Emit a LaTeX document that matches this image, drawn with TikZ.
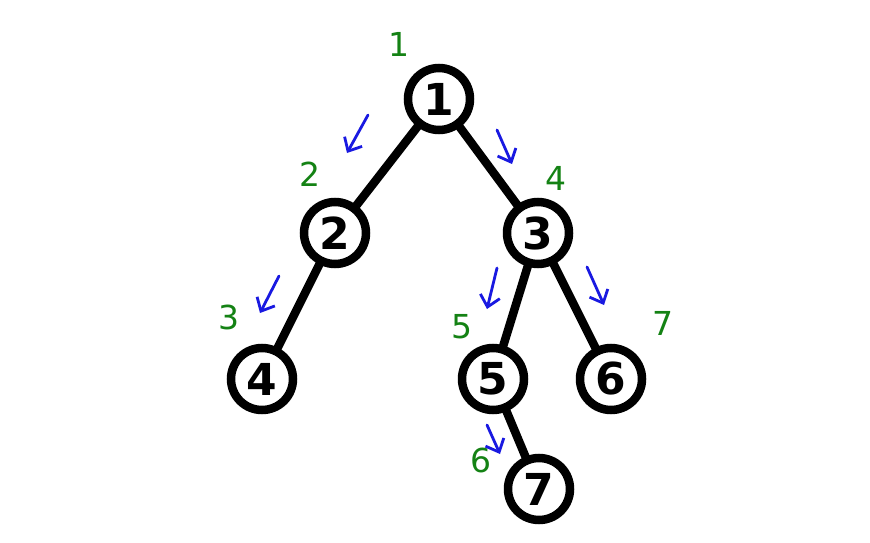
\documentclass[tikz,border=0pt]{standalone}
\usepackage{fontspec}
\setmainfont{DejaVu Sans}
\usetikzlibrary{arrows.meta}
\definecolor{lblgreen}{RGB}{20,130,20}
\definecolor{arrblue}{RGB}{25,25,225}
\begin{document}
\begin{tikzpicture}[x=1pt,y=-1pt,
  tnode/.style={circle,draw=black,line width=8.5pt,fill=white,minimum size=62pt,inner sep=0pt,font=\fontsize{44}{44}\selectfont\bfseries},
  tedge/.style={line width=8.5pt,black},
  order/.style={text=lblgreen,font=\fontsize{33}{33}\selectfont},
  visit/.style={arrblue,line width=2.8pt,line cap=round,-{Straight Barb[length=11pt,width=20pt,line width=2.8pt]}}]
\useasboundingbox (0,0) rectangle (870,543);
\coordinate (p1) at (439,99);
\coordinate (p2) at (335,233);
\coordinate (p3) at (538,233);
\coordinate (p4) at (262,379);
\coordinate (p5) at (493,379);
\coordinate (p6) at (611,379);
\coordinate (p7) at (539,489);
\draw[tedge] (p1) -- (p2);
\draw[tedge] (p1) -- (p3);
\draw[tedge] (p2) -- (p4);
\draw[tedge] (p3) -- (p5);
\draw[tedge] (p3) -- (p6);
\draw[tedge] (p5) -- (p7);
\node[tnode] (n1) at (p1) {1};
\node[tnode] (n2) at (p2) {2};
\node[tnode] (n3) at (p3) {3};
\node[tnode] (n4) at (p4) {4};
\node[tnode] (n5) at (p5) {5};
\node[tnode] (n6) at (p6) {6};
\node[tnode] (n7) at (p7) {7};
% visit order labels
\node[order] (o1) at (399,44) {1};
\node[order] (o2) at (310,174) {2};
\node[order] (o3) at (229,317) {3};
\node[order] (o4) at (556,178) {4};
\node[order] (o5) at (462,327) {5};
\node[order] (o6) at (481,460) {6};
\node[order] (o7) at (663,323) {7};
% traversal arrows
\coordinate (a1s) at (368,115); \coordinate (a1e) at (347,153);
\coordinate (a2s) at (497,130); \coordinate (a2e) at (512,164);
\coordinate (a3s) at (279,276); \coordinate (a3e) at (260,313);
\coordinate (a4s) at (497,268); \coordinate (a4e) at (487,309);
\coordinate (a5s) at (587,267); \coordinate (a5e) at (604,305);
\coordinate (a6s) at (487,425); \coordinate (a6e) at (500,454);
\draw[visit] (a1s) -- (a1e);
\draw[visit] (a2s) -- (a2e);
\draw[visit] (a3s) -- (a3e);
\draw[visit] (a4s) -- (a4e);
\draw[visit] (a5s) -- (a5e);
\draw[visit] (a6s) -- (a6e);
\end{tikzpicture}
\end{document}
